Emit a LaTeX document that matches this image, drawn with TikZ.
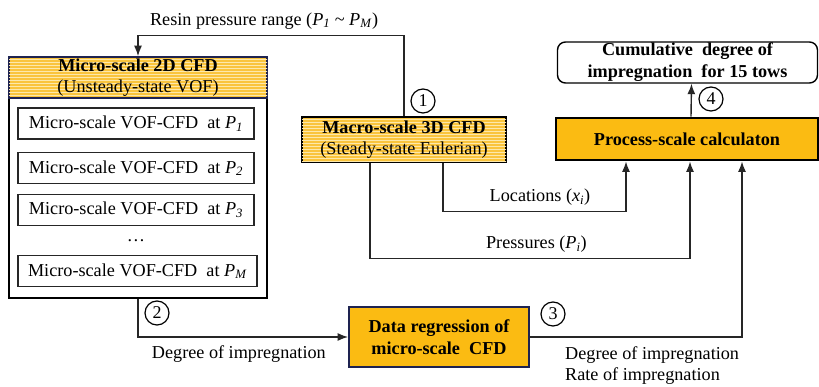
\documentclass[tikz,border=0pt]{standalone}
\usepackage{fontspec}
\setmainfont{Liberation Serif}
\usetikzlibrary{arrows.meta,patterns}
\definecolor{boxorange}{RGB}{251,187,18}
\definecolor{hatchyellow}{RGB}{250,196,60}
\definecolor{hatchline}{RGB}{253,232,170}
\definecolor{navy}{RGB}{30,35,80}
\newcommand{\pvar}[1]{\textit{P}\textsubscript{\textit{#1}}}
\tikzset{
  >={Latex[length=10.5pt,width=8pt]},
  {base box/.style} ={draw, align=center, inner sep=0,
                      font=\fontsize{18.2}{21}\selectfont},
  {vof box/.style} ={base box, line width=1.6pt, draw=black!85,
                     minimum height=31pt, minimum width=236pt},
  {hatch box/.style} ={base box, fill=hatchyellow,
                       postaction={pattern=horizontal lines, pattern color=hatchline}},
  {orange box/.style} ={base box, fill=boxorange, font=\bfseries\fontsize{18.2}{22}\selectfont},
  {num/.style} ={circle, draw, line width=1.2pt, minimum size=24pt, inner sep=0,
                 font=\fontsize{18}{18}\selectfont},
  {link/.style} ={line width=1.4pt, draw=black!85},
  {lbl/.style} ={font=\fontsize{18.2}{21}\selectfont, inner sep=2pt},
}

\begin{document}
\begin{tikzpicture}[x=1pt,y=-1pt]
\useasboundingbox (0,0) rectangle (819,387);
% micro-scale block
\node[base box, line width=1.6pt, minimum width=258pt, minimum height=241pt] (micro) at (138,177.5) {};
\node[hatch box, draw=navy, line width=1.6pt, minimum width=258pt, minimum height=41pt] (microhead) at (138,77.5)
  {\textbf{Micro-scale 2D CFD}\\(Unsteady-state VOF)};
\node[vof box] (vof1) at (136,123.5) {Micro-scale VOF-CFD\ \ at \pvar{1}};
\node[vof box] (vof2) at (136,168) {Micro-scale VOF-CFD\ \ at \pvar{2}};
\node[vof box] (vof3) at (136,210) {Micro-scale VOF-CFD\ \ at \pvar{3}};
\node[lbl] (dots) at (136,241) {\dots};
\node[vof box, minimum width=239pt] (vofm) at (137.5,271) {Micro-scale VOF-CFD\ \ at \pvar{M}};
% macro-scale block
\node[hatch box, line width=2.6pt, minimum width=204pt, minimum height=45pt] (macro) at (404,139.5)
  {\textbf{Macro-scale 3D CFD}\\(Steady-state Eulerian)};
% process-scale blocks
\node[orange box, line width=2.8pt, minimum width=262pt, minimum height=42pt] (proc) at (687,139)
  {Process-scale calculaton};
\node[base box, line width=1.4pt, rounded corners=8pt, minimum width=260pt, minimum height=41pt,
      font=\bfseries\fontsize{18.2}{22}\selectfont] (cum) at (687.5,62.5)
  {Cumulative\ \ degree of\\impregnation\ \ for 15 tows};
\node[orange box, draw=navy, line width=1.8pt, minimum width=180pt, minimum height=60pt] (data) at (439,337)
  {Data regression of\\micro-scale\ \ CFD};
% step numbers
\node[num] (n1) at (423,101) {1};
\node[num] (n2) at (157,313) {2};
\node[num] (n3) at (553,314) {3};
\node[num] (n4) at (711,99) {4};
% connectors
\draw[link,->] (macro.north) -- ++(0,-80) -| (microhead.north)
  node[lbl, pos=0.263, above=4pt] {Resin pressure range (\pvar{1} \textasciitilde\ \pvar{M})};
\draw[link,->] (micro.south) |- (data.west)
  node[lbl, pos=0.74, below=6pt] {Degree of impregnation};
\draw[link,->] (data.east) -| ([xshift=55pt]proc.south);
\node[lbl, anchor=north west, align=left, font=\fontsize{18.2}{21}\selectfont] (out3) at (563,344)
  {Degree of impregnation\\Rate of impregnation};
\draw[link,->] ([xshift=39pt]macro.south) -- ++(0,48) -| ([xshift=-61pt]proc.south)
  node[lbl, pos=0.265, above=3pt] {Locations (\textit{x}\textsubscript{\textit{i}})};
\draw[link,->] ([xshift=-34pt]macro.south) -- ++(0,95) -| ([xshift=3pt]proc.south)
  node[lbl, pos=0.26, above=3pt] {Pressures (\pvar{i})};
\draw[link,->] ([xshift=4pt]proc.north) -- ([xshift=4pt]cum.south);
\end{tikzpicture}
\end{document}
